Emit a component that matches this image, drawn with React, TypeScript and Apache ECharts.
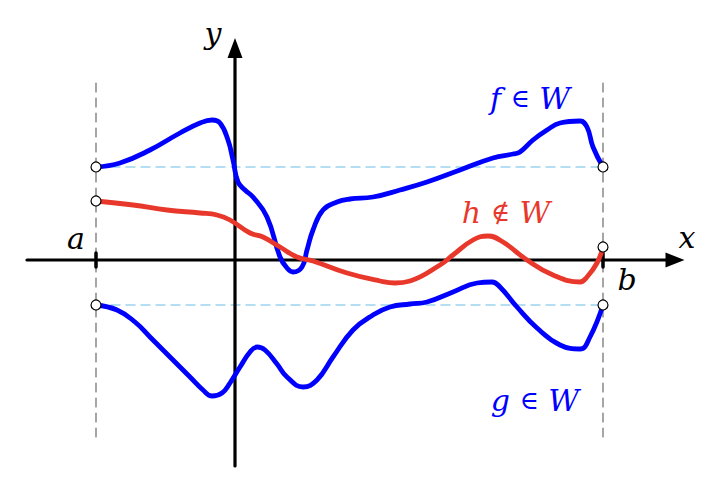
import { useEffect, useRef } from 'react';
import * as echarts from 'echarts';

// interval end points a and b, and the two levels shared by f and g
const bounds = [-13.9, 36.8];
const levels = [9.3, -4.5];
const dashTop = 17.7;
const dashBottom = -18.3;

// the three curves (x, y)
const fCurve = [
  [-13.9, 9.3], [-11.5, 9.7], [-8.5, 11.0], [-5.5, 12.7], [-3.5, 13.7], [-2.3, 14.0],
  [-1.5, 13.7], [-0.7, 12.0], [-0.2, 10.0], [0.3, 7.8], [1.0, 7.0], [1.8, 6.3],
  [3.2, 4.3], [4.5, 0.3], [5.2, -0.8], [5.8, -1.2], [6.7, -0.7], [7.2, 1.0],
  [7.8, 3.0], [8.8, 5.0], [10.2, 5.8], [11.5, 6.1], [13.8, 6.3], [16.5, 7.0],
  [19.2, 7.8], [22.5, 9.0], [25.8, 10.2], [27.8, 10.6], [28.5, 10.8], [29.8, 12.0],
  [31.2, 13.0], [32.5, 13.7], [34.5, 13.9], [35.2, 13.3], [35.8, 11.3], [36.8, 9.3],
];

const gCurve = [
  [-13.9, -4.5], [-11.8, -5.0], [-10.0, -6.2], [-8.5, -7.7], [-6.5, -9.7], [-4.5, -11.7],
  [-3.2, -13.0], [-2.3, -13.6], [-1.3, -13.3], [-0.5, -12.3], [0.5, -10.7], [1.5, -9.2],
  [2.2, -8.7], [3.0, -9.0], [4.2, -10.4], [5.2, -11.7], [6.8, -12.7], [8.2, -12.0],
  [9.8, -9.7], [11.8, -7.0], [13.8, -5.5], [15.5, -4.7], [17.5, -4.4], [19.2, -4.2],
  [21.8, -3.2], [24.2, -2.3], [25.7, -2.2], [26.5, -2.7], [28.2, -4.7], [30.2, -6.8],
  [32.5, -8.5], [34.5, -8.9], [35.5, -7.7], [36.8, -4.5],
];

const hCurve = [
  [-13.9, 5.9], [-10.2, 5.5], [-6.8, 5.0], [-3.5, 4.7], [-1.8, 4.5], [-0.5, 4.0],
  [1.5, 2.7], [2.8, 2.3], [4.5, 1.3], [6.2, 0.3], [7.8, -0.1], [11.2, -1.3],
  [14.5, -2.1], [16.0, -2.3], [17.5, -2.1], [20.5, -0.5], [21.8, 0.5], [23.8, 2.0], [25.3, 2.4],
  [26.8, 1.8], [29.2, 0.0], [31.8, -1.5], [34.5, -2.2], [35.2, -1.7], [36.2, -0.3],
  [36.8, 1.3],
];

// open end-point circles
const endPoints = [
  [-13.9, 9.3], [-13.9, 5.9], [-13.9, -4.5],
  [36.8, 9.3], [36.8, 1.3], [36.8, -4.5],
];

// axes: start of each line and centre of its arrow head
const xAxisLine = [[-20.8, 0], [44.0, 0]];
const yAxisLine = [[0, -20.6], [0, 21.2]];

// texts and where they sit
const letterText = ['y', 'x', 'a', 'b'];
const letterAt = [[-2.2, 22.7], [45.2, 2.3], [-15.9, 2.2], [39.2, -1.9]];
const memberText = ['{i|f }{r|∈}{i| W}', '{i|h }{r|∉}{i| W}', '{i|g }{r|∈}{i| W}'];
const memberAt = [[29.5, 16.2], [27.1, 4.8], [30.0, -14.0]];

const BLUE = '#0000ff';
const RED = '#e8382c';
const SERIF = '"DejaVu Serif", serif';

export default function App() {
  const chartRef = useRef<HTMLDivElement>(null);

  useEffect(() => {
    if (!chartRef.current) return;
    const chart = echarts.init(chartRef.current, undefined, { renderer: 'svg' });

    const plain = (data: number[][], color: string, width: number, type: any, z: number) => ({
      type: 'line',
      data,
      showSymbol: false,
      silent: true,
      z,
      lineStyle: { color, width, type, cap: 'round' },
    });

    const curve = (data: number[][], color: string) => ({
      type: 'line',
      data,
      smooth: 0.45,
      showSymbol: false,
      silent: true,
      z: 5,
      lineStyle: { color, width: 4.8, cap: 'round', join: 'round' },
    });

    const rich = {
      i: { fontFamily: SERIF, fontStyle: 'italic', fontSize: 30 },
      r: { fontFamily: SERIF, fontSize: 26 },
    };

    const option = {
      animation: false,
      grid: { left: 0, right: 0, top: 0, bottom: 0 },
      xAxis: { type: 'value', min: -23.5, max: 48.7, show: false },
      yAxis: { type: 'value', min: -24.2, max: 26.0, show: false },
      series: [
        // dashed guides
        ...bounds.map((x) => plain([[x, dashTop], [x, dashBottom]], '#6b6b6b', 1.2, [9, 6], 1)),
        ...levels.map((y) => plain([[bounds[0], y], [bounds[1], y]], '#9fd4ee', 1.5, [9, 6], 1)),
        // axes
        plain(xAxisLine, '#000', 3.2, 'solid', 2),
        plain(yAxisLine, '#000', 3.2, 'solid', 2),
        ...bounds.map((x) => plain([[x, 0.7], [x, -0.7]], '#000', 3.5, 'solid', 2)),
        {
          type: 'scatter',
          silent: true,
          z: 2,
          symbol: 'triangle',
          itemStyle: { color: '#000', opacity: 1 },
          data: [
            { value: xAxisLine[1], symbolSize: [15, 19], symbolRotate: -90 },
            { value: yAxisLine[1], symbolSize: [15, 20], symbolRotate: 0 },
          ],
        },
        // curves
        curve(fCurve, BLUE),
        curve(gCurve, BLUE),
        curve(hCurve, RED),
        // end points
        {
          type: 'scatter',
          silent: true,
          z: 8,
          symbol: 'circle',
          symbolSize: 10,
          itemStyle: { color: '#fff', borderColor: '#000', borderWidth: 1.2, opacity: 1 },
          data: endPoints,
        },
        // texts
        {
          type: 'scatter',
          silent: true,
          z: 9,
          symbolSize: 0,
          itemStyle: { opacity: 1 },
          data: letterAt.map((p, k) => ({ value: p, name: letterText[k] })),
          label: {
            show: true,
            position: 'inside',
            formatter: '{b}',
            color: '#000',
            fontFamily: SERIF,
            fontStyle: 'italic',
            fontSize: 30,
          },
        },
        {
          type: 'scatter',
          silent: true,
          z: 9,
          symbolSize: 0,
          itemStyle: { opacity: 1 },
          data: memberAt.map((p, k) => ({
            value: p,
            name: memberText[k],
            label: { color: k === 1 ? RED : BLUE },
          })),
          label: {
            show: true,
            position: 'inside',
            formatter: (p: any) => p.name,
            rich,
          },
        },
      ],
    };

    chart.setOption(option);
    return () => chart.dispose();
  }, []);

  return (
    <div
      ref={chartRef}
      style={{ position: 'absolute', left: 0, top: 0, width: 722, height: 502, background: '#fff' }}
    />
  );
}
